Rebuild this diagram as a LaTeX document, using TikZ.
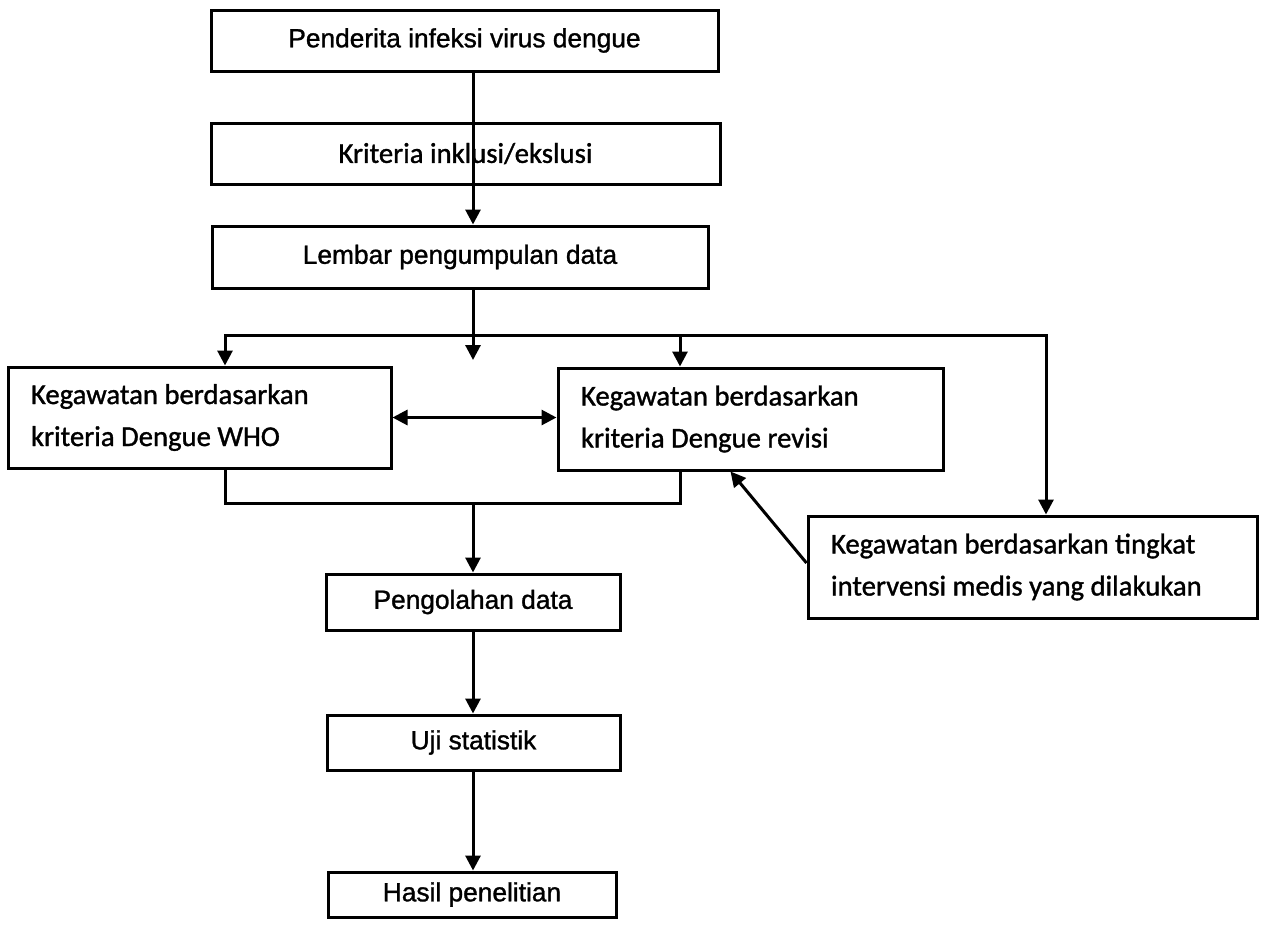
\documentclass[tikz,border=0pt]{standalone}
\usepackage{fontspec}
\newfontfamily\arialf[FakeBold=1.2]{Liberation Sans}
\newfontfamily\calf[FakeBold=1.2]{Carlito}
\usetikzlibrary{arrows.meta,calc}
\tikzset{
  conn/.style={line width=3pt},
  arr/.style={conn,-{Triangle[length=15pt,width=15pt]}},
  darr/.style={conn,{Triangle[length=15pt,width=15pt]}-{Triangle[length=15pt,width=15pt]}},
  abox/.style={draw,line width=3pt,inner sep=0pt,align=center,
    font=\arialf\fontsize{26.3}{30}\selectfont},
  cbox/.style={draw,line width=3pt,inner sep=0pt,align=center,
    font=\calf\fontsize{28.7}{42}\selectfont},
  lbox/.style={draw,line width=3pt,inner xsep=23pt,inner ysep=0pt,align=flush left,
    font=\calf\fontsize{28.7}{42}\selectfont}
}
\begin{document}
\begin{tikzpicture}[x=1pt,y=-1pt]
\useasboundingbox (0,0) rectangle (1263,927);

% main column of steps
\node[abox,minimum width=507pt,minimum height=61pt] (pend) at (464.5,40.5) {Penderita infeksi virus dengue};
\node[cbox,minimum width=509pt,minimum height=61pt] (krit) at (465.5,153.5) {Kriteria inklusi/ekslusi};
\node[abox,minimum width=496pt,minimum height=62pt] (lemb) at (460,257) {Lembar pengumpulan data};

% severity classifications
\node[lbox,text width=337pt,minimum height=101pt] (who) at (199.5,417.5) {Kegawatan berdasarkan\\kriteria Dengue WHO};
\node[lbox,text width=339pt,minimum height=102pt] (rev) at (750.5,419) {Kegawatan berdasarkan\\kriteria Dengue revisi};
\node[lbox,text width=403pt,minimum height=102pt] (ting) at (1032.5,567) {Kegawatan berdasarkan tingkat\\intervensi medis yang dilakukan};

% processing steps
\node[abox,minimum width=294pt,minimum height=56pt] (peng) at (473,602) {Pengolahan data};
\node[abox,minimum width=293pt,minimum height=55pt] (uji) at (473.5,742.5) {Uji statistik};
\node[abox,minimum width=288pt,minimum height=45pt] (hasil) at (472,894.5) {Hasil penelitian};

% spine and distribution bus
\coordinate (sp) at (473,0);
\coordinate (busL) at (225,335);
\coordinate (busM) at (680,335);
\coordinate (busR) at (1046,335);
\coordinate (mid) at (473,360);
\coordinate (joinL) at (225,503);
\coordinate (joinR) at (680,503);
\coordinate (joinM) at (473,503);

\draw[arr] (pend.south -| sp) -- (lemb.north -| sp);
\draw[arr] (lemb.south -| sp) -- (mid);
\draw[conn,line cap=rect] (busL) -- (busR);
\draw[arr] (busL) -- (who.north -| busL);
\draw[arr] (busM) -- (rev.north -| busM);
\draw[arr] (busR) -- (ting.north -| busR);

\draw[darr] (who.east) -- (rev.west |- who.east);

\draw[conn,line join=miter] (who.south -| joinL) -- (joinL) -- (joinR) -- (rev.south -| joinR);
\draw[arr] (joinM) -- (peng.north -| joinM);
\draw[arr] ($(ting.west)+(0,-4)$) -- ($(rev.south)+(-20,0)$);

\draw[arr] (peng.south -| sp) -- (uji.north -| sp);
\draw[arr] (uji.south -| sp) -- (hasil.north -| sp);
\end{tikzpicture}
\end{document}
